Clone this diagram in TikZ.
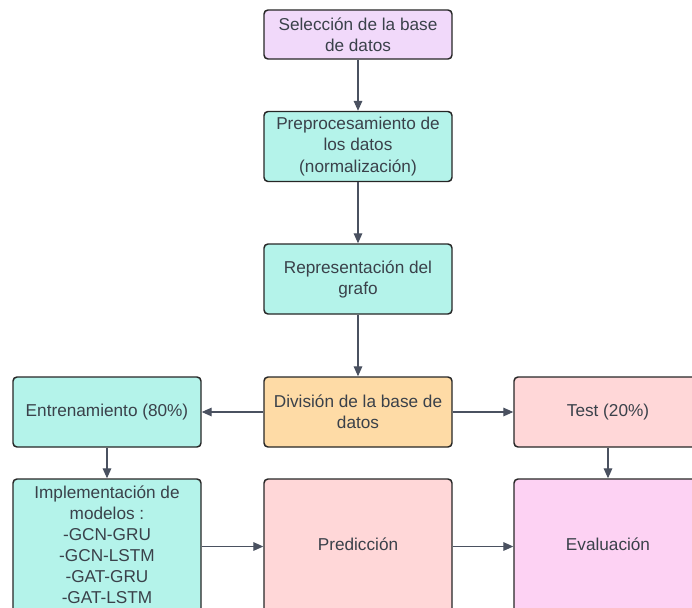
\documentclass[tikz,border=0pt]{standalone}
\usepackage{fontspec}
\setmainfont{Liberation Sans}
\usetikzlibrary{arrows.meta}
\definecolor{txt}{HTML}{3A414A}
\definecolor{edge}{HTML}{4A5160}
\definecolor{lav}{HTML}{F1D9FA}
\definecolor{teal}{HTML}{B4F3EA}
\definecolor{peach}{HTML}{FEDBA6}
\definecolor{rose}{HTML}{FFD7D8}
\definecolor{pinkish}{HTML}{FDD2F3}
\begin{document}
\begin{tikzpicture}[x=0.75pt,y=-0.75pt,
  box/.style={draw=black!85,line width=1.1pt,rounded corners=3pt,
    minimum width=188*0.75pt,minimum height=70*0.75pt,inner sep=2pt,
    align=center,text=txt,font=\fontsize{12.9}{15.8}\selectfont},
  tall/.style={box,minimum height=135*0.75pt},
  flow/.style={draw=edge,line width=0.8pt,-{Triangle[length=7.5pt,width=6.5pt]}}]
\useasboundingbox (0,0) rectangle (692,607);
\clip (0,0) rectangle (692,607);
% main column
\node[box,fill=lav,minimum height=49*0.75pt] (sel) at (358,34.5) {Selección de la base\\de datos};
\node[box,fill=teal] (pre) at (358,146.5) {Preprocesamiento de\\los datos\\(normalización)};
\node[box,fill=teal] (rep) at (358,279) {Representación del\\grafo};
\node[box,fill=peach] (div) at (358,412) {División de la base de\\datos};
% split branches
\node[box,fill=teal] (ent) at (107,412) {Entrenamiento (80\%)};
\node[box,fill=rose] (tst) at (608,412) {Test (20\%)};
% bottom row
\node[tall,fill=teal] (imp) at (107,546.5) {\raisebox{2pt}{\begin{tabular}{@{}c@{}}Implementación de\\modelos :\\-GCN-GRU\\-GCN-LSTM\\-GAT-GRU\\-GAT-LSTM\end{tabular}}};
\node[tall,fill=rose] (pred) at (358,546.5) {\raisebox{3pt}{Predicción}};
\node[tall,fill=pinkish] (eval) at (608,546.5) {\raisebox{3pt}{Evaluación}};
% connectors
\draw[flow] (sel) -- (pre);
\draw[flow] (pre) -- (rep);
\draw[flow] (rep) -- (div);
\draw[flow] (div) -- (ent);
\draw[flow] (div) -- (tst);
\draw[flow] (ent) -- (imp);
\draw[flow] (tst) -- (eval);
\draw[flow] (imp) -- (pred);
\draw[flow] (pred) -- (eval);
\end{tikzpicture}
\end{document}
